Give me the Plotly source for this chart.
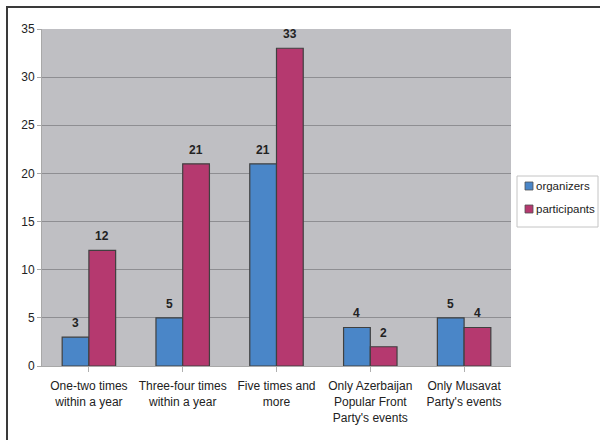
import plotly.graph_objects as go

categories = ["One-two times<br>within a year", "Three-four times<br>within a year",
              "Five times and<br>more", "Only Azerbaijan<br>Popular Front<br>Party's events",
              "Only Musavat<br>Party's events"]
series_names = ["organizers", "participants"]
organizers = [3, 5, 21, 4, 5]
participants = [12, 21, 33, 2, 4]
y_ticks = [0, 5, 10, 15, 20, 25, 30, 35]

blue = "#4a86c8"
pink = "#b5396f"
colors = [blue, pink]
font = "Liberation Sans, Arial, sans-serif"
bargap = 0.43
half = (1 - bargap) / 4

W, H = 600, 440
ML, MR, MT, MB = 42, 89, 29, 74
PW, PH = W - ML - MR, H - MT - MB


def px_x(p):
    return (p - ML) / PW


def px_y(p):
    return (H - MB - p) / PH


fig = go.Figure()
for name, vals, col in zip(series_names, [organizers, participants], colors):
    fig.add_trace(go.Bar(name=name, x=list(range(len(categories))), y=vals, showlegend=False,
                         marker=dict(color=col, line=dict(color="#404040", width=1.2))))

annotations = []
for i, (o, p) in enumerate(zip(organizers, participants)):
    for val, off in ((o, -half), (p, half)):
        annotations.append(dict(x=i + off, y=val, xref="x", yref="y", text=f"<b>{val}</b>",
                                showarrow=False, yanchor="bottom", yshift=5,
                                font=dict(family=font, size=12, color="#222")))

shapes = [dict(type="rect", xref="paper", yref="paper", x0=px_x(7), y0=-0.4, x1=1.3, y1=px_y(7),
               line=dict(color="#3a3a3a", width=2), layer="below"),
          dict(type="rect", xref="paper", yref="paper", x0=px_x(517), x1=px_x(598),
               y0=px_y(227), y1=px_y(176), line=dict(color="#c4c4c4", width=1),
               fillcolor="white", layer="below")]

# legend entries
for k, (name, col) in enumerate(zip(series_names, colors)):
    cy = 186 + 23 * k
    shapes.append(dict(type="rect", xref="paper", yref="paper", x0=px_x(525), x1=px_x(533),
                       y0=px_y(cy + 4), y1=px_y(cy - 4), fillcolor=col,
                       line=dict(color="#505050", width=0.8)))
    annotations.append(dict(x=px_x(534), y=px_y(cy), xref="paper", yref="paper", text=name,
                            showarrow=False, xanchor="left", yanchor="middle",
                            font=dict(family=font, size=11.5, color="#222")))

fig.update_layout(
    width=W, height=H,
    margin=dict(l=ML, r=MR, t=MT, b=MB, autoexpand=False),
    paper_bgcolor="white", plot_bgcolor="#bfbfc3",
    barmode="group", bargap=bargap, bargroupgap=0,
    font=dict(family=font, size=12, color="#222"),
    showlegend=False,
    xaxis=dict(tickmode="array", tickvals=list(range(len(categories))), ticktext=categories,
               range=[-0.5, len(categories) - 0.5], showgrid=False,
               showline=True, linecolor="#a8a8a8", linewidth=1,
               ticks="outside", tickson="boundaries", ticklen=5, tickcolor="#b0b0b0",
               ticklabelstandoff=4, tickfont=dict(size=12, color="#222")),
    yaxis=dict(range=[0, 35], tickvals=y_ticks, showgrid=True, gridcolor="#8e8e92", gridwidth=1,
               showline=True, linecolor="#a8a8a8", ticks="outside", ticklen=4, tickcolor="#a8a8a8",
               tickfont=dict(size=12, color="#222"), zeroline=False),
    annotations=annotations,
    shapes=shapes,
)
fig.write_html("out.html")
